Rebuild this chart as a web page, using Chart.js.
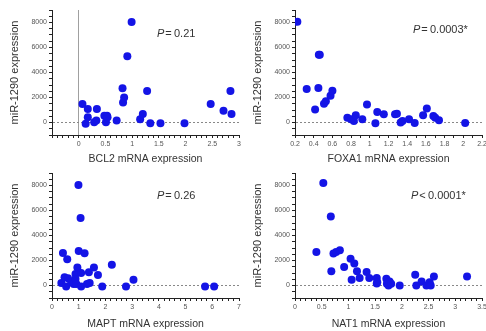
<!DOCTYPE html>
<html>
<head>
<meta charset="utf-8">
<script src="https://cdn.jsdelivr.net/npm/chart.js@4/dist/chart.umd.min.js"></script>
<style>
  body { margin: 0; background: #fff; }
  #wrap { position: relative; width: 486px; height: 331px; }
  canvas { position: absolute; }
</style>
</head>
<body>
<div id="wrap">
  <canvas id="c1" width="243" height="165" style="left:0;top:0"></canvas>
  <canvas id="c2" width="243" height="165" style="left:243px;top:0"></canvas>
  <canvas id="c3" width="243" height="166" style="left:0;top:165px"></canvas>
  <canvas id="c4" width="243" height="166" style="left:243px;top:165px"></canvas>
</div>
<script>
// miR-1290 vs mRNA expression
var bcl2X = [0.07, 0.13, 0.17, 0.17, 0.29, 0.33, 0.34, 0.48, 0.51, 0.53, 0.54, 0.71, 0.82, 0.83, 0.85, 0.91, 0.99, 1.15, 1.2, 1.28, 1.34, 1.53, 1.98, 2.47, 2.71, 2.84, 2.86];
var bcl2Y = [1480, -100, 1080, 420, 30, 160, 1080, 550, 30, 550, 420, 160, 2740, 1610, 2000, 5300, 8050, 260, 690, 2530, -50, -50, -50, 1480, 950, 2530, 690];

var foxa1X = [0.225, 0.325, 0.415, 0.45, 0.455, 0.465, 0.51, 0.53, 0.58, 0.6, 0.76, 0.8, 0.83, 0.85, 0.92, 0.97, 1.06, 1.08, 1.15, 1.27, 1.29, 1.33, 1.35, 1.42, 1.48, 1.57, 1.61, 1.68, 1.7, 1.74, 2.02];
var foxa1Y = [8060, 2680, 1050, 2760, 5430, 5430, 1500, 1700, 2150, 2550, 390, 260, 130, 580, 260, 1440, -50, 840, 660, 660, 710, 0, 130, 260, -30, 580, 1130, 520, 390, 180, -30];

var maptX = [0.35, 0.41, 0.47, 0.53, 0.57, 0.6, 0.72, 0.81, 0.88, 0.88, 0.91, 0.95, 0.99, 1.0, 1.07, 1.09, 1.09, 1.22, 1.31, 1.38, 1.41, 1.57, 1.72, 1.88, 2.24, 2.77, 3.05, 5.73, 6.07];
var maptY = [210, 2610, 660, -80, 2110, 580, 260, 130, 920, 530, 130, 1450, 8050, 2770, 5410, 1000, -80, 2590, 130, 1060, 210, 1450, 840, -80, 1660, -80, 470, -80, -80];

var nat1X = [0.4, 0.53, 0.67, 0.68, 0.72, 0.77, 0.84, 0.92, 1.04, 1.06, 1.11, 1.16, 1.21, 1.34, 1.39, 1.53, 1.53, 1.54, 1.71, 1.72, 1.75, 1.77, 1.8, 1.96, 2.25, 2.27, 2.37, 2.46, 2.52, 2.54, 2.6, 3.22];
var nat1Y = [2680, 8200, 5530, 1140, 2570, 2680, 2820, 1490, 2140, 460, 1760, 1140, 600, 1080, 600, 600, 160, 270, 540, 140, 0, 330, 140, 0, 870, 0, 330, 0, 270, 0, 730, 730];

var yTitle = 'miR-1290 expression';
var pLabels = ['= 0.21', '= 0.0003*', '= 0.26', '< 0.0001*'];

function isMajor(v, major) {
    return Math.abs(v / major - Math.round(v / major)) < 1e-6;
}

function fmt(v) {
    return String(parseFloat(v.toFixed(2)));
}

var pText = {
    id: 'pText',
    afterDraw: function (chart, args, opts) {
        var ctx = chart.ctx;
        ctx.save();
        ctx.fillStyle = '#333';
        ctx.textBaseline = 'middle';
        ctx.font = 'italic 11px "Liberation Sans", Arial, sans-serif';
        ctx.fillText('P', opts.x, opts.y);
        var w = ctx.measureText('P').width;
        ctx.font = '11px "Liberation Sans", Arial, sans-serif';
        ctx.fillText(opts.text.replace(/ /g, '\u2009'), opts.x + w + 1, opts.y);
        ctx.restore();
    }
};

function makeChart(id, xs, ys, cfg) {
    var pts = xs.map(function (x, i) { return { x: x, y: ys[i] }; });
    var ctx = document.getElementById(id).getContext('2d');
    var H = ctx.canvas.height;
    return new Chart(ctx, {
        type: 'scatter',
        data: {
            datasets: [{
                data: pts,
                backgroundColor: '#1414e6',
                borderWidth: 0,
                pointRadius: 4,
                pointHoverRadius: 4
            }]
        },
        plugins: [pText],
        options: {
            responsive: false,
            animation: false,
            events: [],
            layout: { padding: { left: 0, right: cfg.padRight, top: cfg.top, bottom: 0 } },
            plugins: {
                legend: { display: false },
                tooltip: { enabled: false },
                pText: { x: cfg.px, y: cfg.py, text: cfg.p }
            },
            scales: {
                x: {
                    type: 'linear',
                    min: cfg.xMin,
                    max: cfg.xMax,
                    afterFit: function (s) {
                        s.height = H - cfg.bottom;
                        s.paddingLeft = 0;
                        s.paddingRight = 0;
                    },
                    grid: {
                        color: function (c) {
                            return (cfg.zeroV && c.tick && c.tick.value === 0) ? '#a0a0a0' : 'rgba(0,0,0,0)';
                        },
                        tickColor: '#222',
                        tickLength: 3
                    },
                    border: { color: '#222', width: 1 },
                    ticks: {
                        stepSize: cfg.xStep,
                        autoSkip: false,
                        maxRotation: 0,
                        padding: 2,
                        color: '#555',
                        font: { size: 7, family: '"Liberation Sans", Arial, sans-serif' },
                        callback: function (v) {
                            if (v < cfg.xLabelMin - 1e-9) return '';
                            return isMajor(v, cfg.xMajor) ? fmt(v) : '';
                        }
                    },
                    title: {
                        display: true,
                        text: cfg.xTitle,
                        color: '#333',
                        padding: { top: 0, bottom: cfg.xTitlePad },
                        font: { size: 10.5, family: '"Liberation Sans", Arial, sans-serif' }
                    }
                },
                y: {
                    type: 'linear',
                    min: -1000,
                    max: 9000,
                    afterFit: function (s) {
                        s.width = 52;
                        s.paddingTop = 0;
                        s.paddingBottom = 0;
                    },
                    grid: {
                        color: function (c) {
                            return (c.tick && c.tick.value === 0) ? '#888' : 'rgba(0,0,0,0)';
                        },
                        tickColor: '#222',
                        tickLength: 3
                    },
                    border: { color: '#222', width: 1, dash: [2, 2] },
                    ticks: {
                        stepSize: 500,
                        autoSkip: false,
                        padding: 2,
                        color: '#555',
                        font: { size: 7, family: '"Liberation Sans", Arial, sans-serif' },
                        callback: function (v) {
                            return (v >= 0 && isMajor(v, 2000)) ? String(v) : '';
                        }
                    },
                    title: {
                        display: true,
                        text: yTitle,
                        color: '#333',
                        padding: { top: 8.5, bottom: 0 },
                        font: { size: 11, family: '"Liberation Sans", Arial, sans-serif' }
                    }
                }
            }
        }
    });
}

document.addEventListener('DOMContentLoaded', function () {
    makeChart('c1', bcl2X, bcl2Y, {
        xMin: -0.5, xMax: 3, xStep: 0.1, xMajor: 0.5, xLabelMin: 0, zeroV: true,
        xTitle: 'BCL2 mRNA expression', top: 10, bottom: 135, padRight: 2, xTitlePad: 0,
        px: 157, py: 34, p: pLabels[0]
    });
    makeChart('c2', foxa1X, foxa1Y, {
        xMin: 0.2, xMax: 2.2, xStep: 0.1, xMajor: 0.2, xLabelMin: 0.2, zeroV: false,
        xTitle: 'FOXA1 mRNA expression', top: 10, bottom: 135, padRight: 3, xTitlePad: 0,
        px: 170, py: 30, p: pLabels[1]
    });
    makeChart('c3', maptX, maptY, {
        xMin: 0, xMax: 7, xStep: 0.2, xMajor: 1, xLabelMin: 0, zeroV: false,
        xTitle: 'MAPT mRNA expression', top: 8, bottom: 133, padRight: 3, xTitlePad: 1,
        px: 157, py: 31, p: pLabels[2]
    });
    makeChart('c4', nat1X, nat1Y, {
        xMin: 0, xMax: 3.5, xStep: 0.1, xMajor: 0.5, xLabelMin: 0, zeroV: false,
        xTitle: 'NAT1 mRNA expression', top: 8, bottom: 133, padRight: 4, xTitlePad: 1,
        px: 168, py: 31, p: pLabels[3]
    });
});
</script>
</body>
</html>
